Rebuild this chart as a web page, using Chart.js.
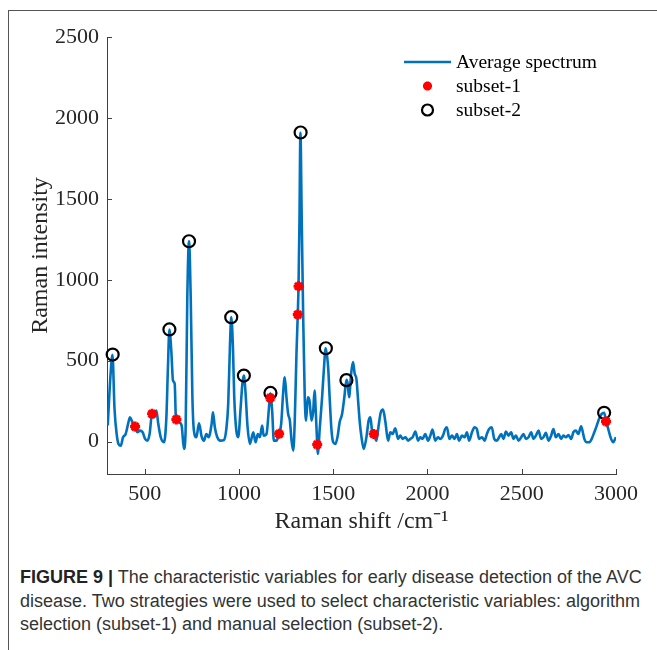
<!DOCTYPE html>
<html>
<head>
<meta charset="utf-8">
<script src="https://cdn.jsdelivr.net/npm/chart.js@4/dist/chart.umd.min.js"></script>
<style>
  html, body { margin: 0; padding: 0; background: #fff; }
  body { width: 657px; height: 650px; position: relative; overflow: hidden; }
  #frame { position: absolute; left: 8px; top: 10px; right: 0; bottom: 0; border-top: 1px solid #555; border-left: 1px solid #555; }
  #wrap { position: absolute; left: 0; top: 0; width: 657px; height: 540px; }
  #caption { position: absolute; left: 20px; top: 566px; font-family: 'Liberation Sans', Arial, sans-serif; font-size: 18px; line-height: 23.5px; color: #333; white-space: nowrap; }
  #caption b { color: #222; }
</style>
</head>
<body>
<div id="frame"></div>
<div id="wrap"><canvas id="chart" width="657" height="540"></canvas></div>
<div id="caption">
  <div><b>FIGURE 9 |</b> The characteristic variables for early disease detection of the AVC</div>
  <div>disease. Two strategies were used to select characteristic variables: algorithm</div>
  <div>selection (subset-1) and manual selection (subset-2).</div>
</div>
<script>
// Chart.js comes in as a UMD global
const Chart = window.Chart;

// average spectrum (Raman shift in cm-1, intensity)
const shiftValues = [
  304, 318, 329, 340, 352, 361, 373, 385, 399, 414, 422, 435, 449, 461, 475, 489,
  502, 514, 526, 539, 549, 562, 572, 585, 602, 615, 623, 631, 641, 650, 659, 666,
  681, 696, 708, 717, 726, 735, 744, 753, 761, 774, 788, 802, 814, 827, 839, 855,
  862, 872, 885, 902, 920, 933, 943, 952, 959, 968, 975, 986, 996, 1009, 1018, 1026,
  1035, 1045, 1058, 1076, 1088, 1100, 1111, 1123, 1131, 1146, 1158, 1166, 1176, 1185, 1199, 1212,
  1224, 1234, 1243, 1252, 1261, 1270, 1279, 1288, 1296, 1305, 1312, 1316, 1321, 1326, 1333, 1341,
  1349, 1356, 1365, 1374, 1385, 1394, 1401, 1408, 1415, 1418, 1429, 1441, 1450, 1460, 1473, 1481,
  1491, 1500, 1512, 1524, 1534, 1547, 1559, 1570, 1577, 1584, 1595, 1605, 1614, 1623, 1632, 1640,
  1650, 1662, 1676, 1688, 1697, 1706, 1715, 1729, 1741, 1752, 1764, 1777, 1791, 1803, 1815, 1829,
  1844, 1856, 1868, 1883, 1897, 1909, 1921, 1936, 1950, 1962, 1974, 1988, 2003, 2015, 2027, 2041,
  2056, 2068, 2082, 2094, 2103, 2116, 2130, 2144, 2156, 2168, 2183, 2197, 2209, 2221, 2236, 2250,
  2262, 2274, 2289, 2303, 2315, 2327, 2341, 2354, 2368, 2380, 2391, 2403, 2416, 2430, 2444, 2456,
  2469, 2483, 2497, 2509, 2522, 2536, 2550, 2562, 2575, 2589, 2603, 2615, 2628, 2642, 2656, 2668,
  2681, 2695, 2709, 2721, 2734, 2748, 2762, 2774, 2787, 2800, 2815, 2824, 2832, 2845, 2857, 2871,
  2885, 2898, 2910, 2924, 2937, 2947, 2959, 2971, 2985, 2997, 3000
];
const intensityValues = [
  100, 400, 537, 200, 40, -14, -25, 27, 47, 120, 150, 120, 93, 58, 68, 58,
  17, 6, 47, 173, 150, 192, 110, 27, -4, 150, 450, 693, 563, 377, 357, 136,
  120, 99, -45, 68, 893, 1238, 893, 274, 68, 27, 113, 31, 6, 47, 27, 110,
  181, 89, 27, 6, 10, 78, 233, 584, 769, 584, 274, 68, 27, 212, 357, 408,
  300, 100, -14, 58, -4, 47, 27, 99, 37, 47, 192, 299, 192, 6, 6, 47,
  110, 295, 398, 274, 171, 130, 6, -56, 130, 543, 786, 961, 1367, 1908, 1367, 749,
  274, 130, 274, 254, 130, 192, 315, 171, -14, -76, 89, 274, 439, 577, 460, 274,
  68, -4, -14, 37, 120, 171, 274, 382, 357, 274, 419, 491, 419, 388, 254, 130,
  27, -45, 27, 130, 150, 68, 47, 6, 100, 180, 198, 120, 6, 58, 47, 83,
  17, 37, 17, 27, 6, 17, 27, 62, 6, 27, 17, 47, 6, 37, 74, 6,
  27, 17, 37, 78, 89, 17, 37, 17, 47, 6, 37, 27, 58, 6, 58, 89,
  78, 17, 27, 6, 47, 78, 89, 17, 6, 27, 47, 17, 62, 37, 58, 17,
  37, 6, 27, 47, 17, 27, 58, 17, 37, 68, 17, 27, 54, 6, 37, 78,
  27, 47, 17, 37, 27, 41, 17, 58, 68, 47, 95, 58, 17, -4, -4, 17,
  58, 99, 140, 171, 178, 130, 78, 27, -4, 21, 27
];

// subset-1: algorithm selection (red stars)
const subset1Shift = [449, 539, 668, 1166, 1213, 1312, 1316, 1415, 1715, 2947];
const subset1Intensity = [93, 172, 137, 270, 48, 785, 960, -18, 47, 125];

// subset-2: manual selection (black circles)
const subset2Shift = [330, 631, 735, 959, 1026, 1167, 1327, 1461, 1570, 2937];
const subset2Intensity = [538, 693, 1238, 769, 408, 301, 1910, 577, 380, 178];

const xTickValues = [500, 1000, 1500, 2000, 2500, 3000];
const yTickValues = [0, 500, 1000, 1500, 2000, 2500];

// legend rows, top to bottom
const legendLabels = ['Average spectrum', 'subset-1', 'subset-2'];

const toPoints = (xs, ys) => xs.map((x, i) => ({ x, y: ys[i] }));

const serif = 'Liberation Serif, Times New Roman, serif';
const axisColor = '#404040';
const textColor = '#262626';

// MATLAB style ticks pointing into the plot
const innerTicks = {
  id: 'innerTicks',
  afterDraw(chart) {
    const { ctx, chartArea, scales } = chart;
    ctx.save();
    ctx.strokeStyle = axisColor;
    ctx.lineWidth = 1;
    ctx.beginPath();
    scales.x.ticks.forEach((t) => {
      const px = Math.round(scales.x.getPixelForValue(t.value)) + 0.5;
      ctx.moveTo(px, chartArea.bottom);
      ctx.lineTo(px, chartArea.bottom - 5);
    });
    scales.y.ticks.forEach((t) => {
      const py = Math.round(scales.y.getPixelForValue(t.value)) + 0.5;
      ctx.moveTo(chartArea.left, py);
      ctx.lineTo(chartArea.left + 5, py);
    });
    ctx.stroke();
    ctx.restore();
  },
};

// legend without a box, top right inside the axes
const cornerLegend = {
  id: 'cornerLegend',
  afterDatasetsDraw(chart) {
    const { ctx } = chart;
    const top = 62;
    const rowGap = 24;
    ctx.save();
    ctx.font = '19.5px ' + serif;
    ctx.textBaseline = 'middle';
    ctx.textAlign = 'left';
    legendLabels.forEach((label, i) => {
      const ds = chart.data.datasets.find((d) => d.label === label);
      const y = top + i * rowGap;
      if (ds.showLine) {
        ctx.strokeStyle = ds.borderColor;
        ctx.lineWidth = ds.borderWidth;
        ctx.beginPath();
        ctx.moveTo(404, y);
        ctx.lineTo(451, y);
        ctx.stroke();
      } else {
        ctx.strokeStyle = ds.pointBorderColor;
        ctx.fillStyle = 'rgba(0,0,0,0)';
        ctx.lineWidth = ds.pointBorderWidth;
        Chart.helpers.drawPoint(ctx, {
          pointStyle: ds.pointStyle,
          radius: ds.pointRadius - 0.5,
          borderWidth: ds.pointBorderWidth,
          rotation: 0,
        }, 427.5, y);
      }
      ctx.fillStyle = '#000';
      ctx.fillText(ds.label, 456, y + 1);
    });
    ctx.restore();
  },
};

new Chart(document.getElementById('chart').getContext('2d'), {
  type: 'scatter',
  data: {
    datasets: [
      {
        label: 'subset-1',
        data: toPoints(subset1Shift, subset1Intensity),
        showLine: false,
        pointStyle: 'star',
        pointRadius: 5,
        pointBorderWidth: 3,
        pointBorderColor: '#ff0000',
        pointBackgroundColor: '#ff0000',
        order: 1,
        clip: false,
      },
      {
        label: 'subset-2',
        data: toPoints(subset2Shift, subset2Intensity),
        showLine: false,
        pointStyle: 'circle',
        pointRadius: 6,
        pointBorderWidth: 2.2,
        pointBorderColor: '#000000',
        pointBackgroundColor: 'rgba(0,0,0,0)',
        order: 2,
        clip: false,
      },
      {
        label: 'Average spectrum',
        data: toPoints(shiftValues, intensityValues),
        showLine: true,
        borderColor: '#0072BD',
        borderWidth: 2.6,
        pointRadius: 0,
        cubicInterpolationMode: 'monotone',
        order: 3,
      },
    ],
  },
  options: {
    responsive: false,
    animation: false,
    layout: { padding: { top: 37, right: 41, left: 0, bottom: 0 } },
    plugins: {
      legend: { display: false },
      tooltip: { enabled: false },
    },
    scales: {
      x: {
        type: 'linear',
        min: 300,
        max: 3000,
        afterBuildTicks: (scale) => {
          scale.ticks = xTickValues.map((value) => ({ value }));
        },
        afterFit: (scale) => {
          scale.height = 66;
        },
        grid: { display: false, drawTicks: false },
        border: { color: axisColor, width: 1 },
        ticks: {
          padding: 7,
          color: textColor,
          maxRotation: 0,
          font: { family: serif, size: 22 },
          callback: (val) => String(val),
        },
        title: {
          display: true,
          text: 'Raman shift /cm\u207B\u00B9',
          color: textColor,
          font: { family: serif, size: 24 },
          padding: { top: 0, bottom: 4 },
        },
      },
      y: {
        type: 'linear',
        min: -200,
        max: 2500,
        afterBuildTicks: (scale) => {
          scale.ticks = yTickValues.map((value) => ({ value }));
        },
        afterFit: (scale) => {
          scale.width = 107;
        },
        grid: { display: false, drawTicks: false },
        border: { color: axisColor, width: 1 },
        ticks: {
          padding: 8,
          color: textColor,
          font: { family: serif, size: 22 },
          callback: (val) => String(val),
        },
        title: {
          display: true,
          text: 'Raman intensity',
          color: textColor,
          font: { family: serif, size: 24 },
          padding: { top: 26, bottom: 0 },
        },
      },
    },
  },
  plugins: [innerTicks, cornerLegend],
});
</script>
</body>
</html>
